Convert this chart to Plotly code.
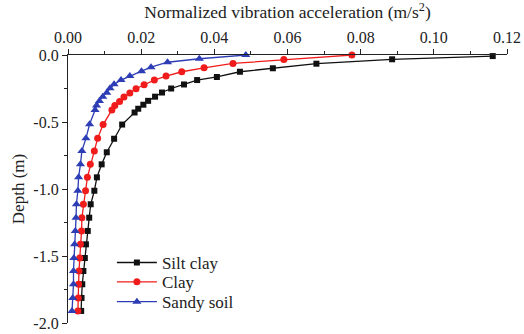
import plotly.graph_objects as go

# Silt clay (black squares)
silt_acc = [0.1161, 0.0886, 0.0679, 0.0560, 0.0470, 0.0407, 0.0353, 0.0317, 0.0282, 0.0257,
            0.0238, 0.0219, 0.0206, 0.0192, 0.0182, 0.0148, 0.0126, 0.0106, 0.0092, 0.0079,
            0.0072, 0.0062, 0.0058, 0.0054, 0.0049, 0.0046, 0.0042, 0.0039, 0.0037, 0.0036]
silt_depth = [-0.008, -0.032, -0.065, -0.099, -0.125, -0.164, -0.187, -0.220, -0.250, -0.280,
              -0.311, -0.342, -0.371, -0.401, -0.429, -0.519, -0.625, -0.726, -0.816, -0.913,
              -1.013, -1.114, -1.214, -1.313, -1.413, -1.515, -1.612, -1.711, -1.813, -1.910]

# Clay (red circles)
clay_acc = [0.0776, 0.0590, 0.0451, 0.0372, 0.0311, 0.0268, 0.0236, 0.0208, 0.0186, 0.0169,
            0.0153, 0.0141, 0.0128, 0.0120, 0.0096, 0.0081, 0.0072, 0.0061, 0.0053, 0.0048,
            0.0042, 0.0038, 0.0037, 0.0034, 0.0032, 0.0030, 0.0029, 0.0028, 0.0027]
clay_depth = [0.0, -0.034, -0.063, -0.096, -0.125, -0.157, -0.187, -0.222, -0.252, -0.284,
              -0.313, -0.347, -0.377, -0.410, -0.519, -0.622, -0.716, -0.816, -0.913, -1.013,
              -1.114, -1.214, -1.313, -1.413, -1.515, -1.612, -1.711, -1.813, -1.910]

# Sandy soil (blue triangles)
sand_acc = [0.0486, 0.0359, 0.0272, 0.0227, 0.0201, 0.0169, 0.0145, 0.0126, 0.0115, 0.0106,
            0.0095, 0.0086, 0.0078, 0.0074, 0.0059, 0.0049, 0.0038, 0.0034, 0.0029, 0.0027,
            0.0023, 0.0022, 0.0020, 0.0018, 0.0016, 0.0015, 0.0015, 0.0013, 0.0011]
sand_depth = [0.0, -0.028, -0.054, -0.091, -0.121, -0.157, -0.187, -0.219, -0.249, -0.281,
              -0.311, -0.343, -0.377, -0.410, -0.517, -0.622, -0.716, -0.816, -0.913, -1.013,
              -1.114, -1.214, -1.313, -1.413, -1.515, -1.612, -1.711, -1.813, -1.910]

x_ticks = [0.00, 0.02, 0.04, 0.06, 0.08, 0.10, 0.12]
x_tick_labels = ["0.00", "0.02", "0.04", "0.06", "0.08", "0.10", "0.12"]
y_ticks = [0.0, -0.5, -1.0, -1.5, -2.0]
y_tick_labels = ["0.0", "-0.5", "-1.0", "-1.5", "-2.0"]

FONT = "Liberation Serif"
BLACK = "#111111"
RED = "#f01c1c"
BLUE = "#2d3db5"
TXT = "#222222"

fig = go.Figure()
fig.add_trace(go.Scatter(x=silt_acc, y=silt_depth, mode="lines+markers", name="Silt clay",
                         line=dict(color=BLACK, width=1.3),
                         marker=dict(symbol="square", size=6, color=BLACK),
                         cliponaxis=False, legend="legend"))
fig.add_trace(go.Scatter(x=clay_acc, y=clay_depth, mode="lines+markers", name="Clay",
                         line=dict(color=RED, width=1.3),
                         marker=dict(symbol="circle", size=7, color=RED),
                         cliponaxis=False, legend="legend2"))
fig.add_trace(go.Scatter(x=sand_acc, y=sand_depth, mode="lines+markers", name="Sandy soil",
                         line=dict(color=BLUE, width=1.3),
                         marker=dict(symbol="triangle-up", size=8, color=BLUE),
                         cliponaxis=False, legend="legend3"))

leg_common = dict(x=0.1, xanchor="left", yanchor="middle", bgcolor="rgba(0,0,0,0)",
                  font=dict(family=FONT, size=17, color=TXT), itemwidth=40)

fig.update_layout(
    width=524, height=334,
    margin=dict(l=68, r=17, t=55, b=11, autoexpand=False),
    paper_bgcolor="white", plot_bgcolor="white",
    font=dict(family=FONT, size=15, color=TXT),
    showlegend=True,
    legend=dict(y=0.224, **leg_common),
    legend2=dict(y=0.152, **leg_common),
    legend3=dict(y=0.078, **leg_common),
    xaxis=dict(side="top", range=[0, 0.12], tickvals=x_ticks, ticktext=x_tick_labels,
               automargin=False,
               showgrid=False, zeroline=False, showline=True, linecolor=TXT, linewidth=1.2,
               ticks="outside", ticklen=5, tickwidth=1.2, tickcolor=TXT,
               minor=dict(dtick=0.01, ticks="outside", ticklen=3, tickwidth=1, tickcolor=TXT),
               title=dict(text="Normalized vibration acceleration (m/s<sup>2</sup>)",
                          font=dict(family=FONT, size=17.5, color=TXT), standoff=6),
               tickfont=dict(family=FONT, size=16)),
    yaxis=dict(range=[-2.0, 0.0], tickvals=y_ticks, ticktext=y_tick_labels,
               automargin=False,
               showgrid=False, zeroline=False, showline=True, linecolor=TXT, linewidth=1.2,
               ticks="outside", ticklen=5, tickwidth=1.2, tickcolor=TXT,
               minor=dict(dtick=0.25, ticks="outside", ticklen=3, tickwidth=1, tickcolor=TXT),
               title=dict(text="Depth (m)", font=dict(family=FONT, size=17, color=TXT), standoff=4),
               tickfont=dict(family=FONT, size=16)),
)

fig.write_html("out.html")
